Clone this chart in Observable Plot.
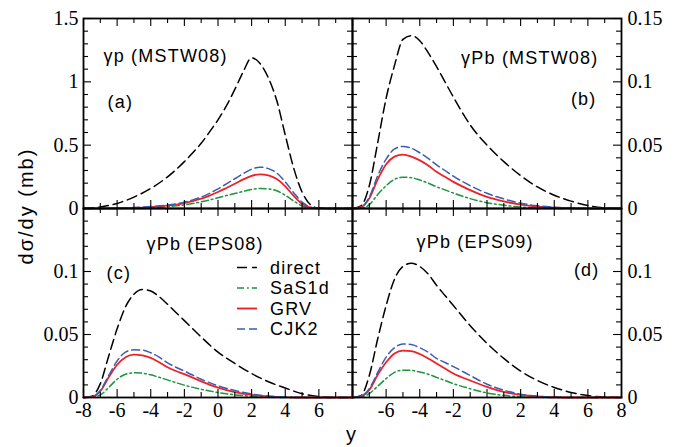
<!DOCTYPE html>
<html><head><meta charset="utf-8">
<script src="https://cdn.jsdelivr.net/npm/d3@7"></script>
<script src="https://cdn.jsdelivr.net/npm/@observablehq/plot@0.6"></script>
<style>
html,body{margin:0;padding:0;background:#fff;}
#chart{position:relative;width:696px;height:447px;overflow:hidden;background:#fff;}
#chart svg{position:absolute;left:0;top:0;}
</style></head><body><div id="chart"></div>
<script>
// ---------- data ----------
const seriesNames = ["direct", "SaS1d", "GRV", "CJK2"];

// panel (a): gamma p, MSTW08
const yGridP = [-8,-7,-6,-5,-4,-3,-2,-1.5,-1,-0.5,0,0.5,1,1.5,2,2.5,3,3.5,4,4.5,5,5.5,6,7,8];
const aDirect = [0,0.012,0.04,0.09,0.158,0.25,0.37,0.44,0.515,0.605,0.70,0.81,0.94,1.08,1.19,1.145,1.03,0.85,0.58,0.32,0.13,0.03,0.003,0,0];
const aSaS    = [0,0,0.001,0.003,0.007,0.014,0.028,0.039,0.052,0.067,0.085,0.102,0.118,0.135,0.15,0.158,0.155,0.14,0.105,0.06,0.02,0.003,0,0,0];
const aGRV    = [0,0.001,0.002,0.005,0.011,0.022,0.043,0.059,0.078,0.102,0.13,0.162,0.195,0.23,0.258,0.27,0.262,0.232,0.175,0.10,0.035,0.007,0.001,0,0];
const aCJK    = [0,0.001,0.003,0.007,0.015,0.027,0.05,0.068,0.09,0.12,0.155,0.195,0.235,0.275,0.31,0.326,0.315,0.28,0.21,0.125,0.05,0.012,0.001,0,0];

// panels (b)-(d): gamma Pb
const yGridPb = [-8,-7.5,-7,-6.5,-6,-5.5,-5,-4.5,-4,-3.5,-3,-2.5,-2,-1,0,1,2,3,4,5,6,7,8];
const bDirect = [0,0.002,0.018,0.052,0.087,0.113,0.1335,0.1365,0.1325,0.123,0.112,0.100,0.088,0.066,0.050,0.037,0.026,0.017,0.0105,0.0058,0.0024,0.0005,0];
const bSaS    = [0,0.0003,0.003,0.011,0.018,0.023,0.0247,0.0243,0.0225,0.020,0.0172,0.0147,0.0122,0.0078,0.0046,0.0026,0.0011,0.0004,0.0001,0,0,0,0];
const bGRV    = [0,0.001,0.008,0.023,0.035,0.041,0.0426,0.041,0.038,0.034,0.029,0.025,0.021,0.0145,0.0092,0.0057,0.0031,0.0015,0.0006,0.0002,0,0,0];
const bCJK    = [0,0.001,0.009,0.026,0.039,0.047,0.049,0.0476,0.044,0.0395,0.0345,0.030,0.0255,0.018,0.012,0.0076,0.0042,0.0022,0.001,0.0003,0,0,0];

const cDirect = [0,0.001,0.011,0.033,0.0545,0.072,0.082,0.0857,0.0845,0.080,0.074,0.0675,0.061,0.048,0.036,0.027,0.019,0.0125,0.0075,0.003,0.0008,0,0];
const cSaS    = [0,0.0002,0.002,0.008,0.0145,0.0185,0.0196,0.0193,0.018,0.016,0.014,0.0118,0.0098,0.0065,0.004,0.0021,0.001,0.0004,0,0,0,0,0];
const cGRV    = [0,0.0005,0.005,0.016,0.026,0.032,0.034,0.0335,0.0315,0.028,0.024,0.021,0.0185,0.0128,0.0078,0.0043,0.0021,0.0009,0.0003,0,0,0,0];
const cCJK    = [0,0.0005,0.0055,0.0175,0.029,0.036,0.0378,0.0376,0.0355,0.032,0.0275,0.024,0.021,0.0145,0.0093,0.0055,0.0028,0.0012,0.0004,0,0,0,0];

const dDirect = [0,0.0015,0.0175,0.0466,0.073,0.094,0.104,0.1066,0.104,0.098,0.089,0.081,0.073,0.057,0.043,0.031,0.021,0.0135,0.008,0.004,0.0015,0.0003,0];
const dSaS    = [0,0.0005,0.003,0.009,0.015,0.02,0.0217,0.0215,0.0203,0.0185,0.016,0.0135,0.011,0.007,0.0036,0.0017,0.0006,0.0002,0,0,0,0,0];
const dGRV    = [0,0.001,0.006,0.018,0.028,0.035,0.0372,0.0368,0.0345,0.031,0.027,0.023,0.019,0.0135,0.0085,0.0044,0.0021,0.0008,0.0002,0,0,0,0];
const dCJK    = [0,0.001,0.007,0.02,0.032,0.0395,0.0425,0.042,0.0395,0.036,0.031,0.0278,0.0245,0.0175,0.0105,0.0058,0.0026,0.001,0.0003,0,0,0,0];

// ticks
const xMajor = [-8,-6,-4,-2,0,2,4,6,8];
const xMinor = [-7,-5,-3,-1,1,3,5,7];
const xLabelsLeft  = [-8,-6,-4,-2,0,2,4,6];
const xLabelsRight = [-6,-4,-2,0,2,4,6,8];
const yMajorA = [0,0.5,1,1.5];
const yMinorA = [0.1,0.2,0.3,0.4,0.6,0.7,0.8,0.9,1.1,1.2,1.3,1.4];
const yMajorPb = [0,0.05,0.1,0.15];
const yMinorPb = [0.01,0.02,0.03,0.04,0.06,0.07,0.08,0.09,0.11,0.12,0.13,0.14];
const yLabelsA = [0,0.5,1,1.5];
const yLabelsB = [0,0.05,0.1,0.15];
const yLabelsC = [0,0.05,0.1];
const yLabelsD = [0,0.05,0.1];

const titles = ["γp (MSTW08)", "γPb (MSTW08)", "γPb (EPS08)", "γPb (EPS09)"];
const tags = ["(a)", "(b)", "(c)", "(d)"];
const yAxisLabel = "dσ/dy (mb)";
const xAxisLabel = "y";

// ---------- styles / layout ----------
const W = 696, H = 447;
const X0 = 83, XM = 352, X1 = 621, Y0 = 18, YM = 208, Y1 = 397;
const SERIF = "Liberation Serif";
const SANS = "Liberation Sans";
const colors = ["#000000", "#1c9440", "#ee2226", "#3b5cb4"];
const dashes = ["10,5", "7,3,1.8,3", null, "8,4"];
const widths = [1.5, 1.5, 1.8, 1.5];

function panel(o) {
  const fw = o.right - o.left, fh = o.bottom - o.top;
  const marks = [];
  o.series.forEach((vals, k) => {
    const rows = o.xs.map((x, i) => ({x, v: vals[i]}));
    const opt = {x: "x", y: "v", stroke: colors[k], strokeWidth: widths[k], curve: "monotone-x"};
    if (dashes[k]) opt.strokeDasharray = dashes[k];
    marks.push(Plot.line(rows, opt));
  });
  const tc = {stroke: "#000", strokeWidth: 1.1};
  marks.push(Plot.tickY(o.yMajor, {y: d => d, insetRight: fw - 8, ...tc}));
  marks.push(Plot.tickY(o.yMajor, {y: d => d, insetLeft: fw - 8, ...tc}));
  marks.push(Plot.tickY(o.yMinor, {y: d => d, insetRight: fw - 5, ...tc}));
  marks.push(Plot.tickY(o.yMinor, {y: d => d, insetLeft: fw - 5, ...tc}));
  marks.push(Plot.tickX(xMajor, {x: d => d, insetBottom: fh - 8, ...tc}));
  marks.push(Plot.tickX(xMajor, {x: d => d, insetTop: fh - 8, ...tc}));
  marks.push(Plot.tickX(xMinor, {x: d => d, insetBottom: fh - 5, ...tc}));
  marks.push(Plot.tickX(xMinor, {x: d => d, insetTop: fh - 5, ...tc}));
  marks.push(Plot.frame({stroke: "#000", strokeWidth: 1.8}));
  // tick labels (serif)
  const left = o.ySide === "left";
  marks.push(Plot.text(o.yLabels, {y: d => d, text: d => String(d), frameAnchor: left ? "left" : "right",
    dx: left ? -5 : 6, textAnchor: left ? "end" : "start", fontFamily: SERIF, fontSize: 20, fill: "#000"}));
  if (o.xLabels) marks.push(Plot.text(o.xLabels, {x: d => d, text: d => String(d), frameAnchor: "bottom",
    dy: 5, lineAnchor: "top", textAnchor: "middle", fontFamily: SERIF, fontSize: 20, fill: "#000"}));
  marks.push(Plot.text([o.title], {text: d => d, frameAnchor: o.titleAnchor, dx: o.titleDx, dy: o.titleDy,
    textAnchor: o.titleAnchor.endsWith("left") ? "start" : "end", fontSize: 18, fontFamily: SANS, fill: "#000"}));
  marks.push(Plot.text([o.tag], {text: d => d, frameAnchor: o.tagAnchor, dx: o.tagDx, dy: o.tagDy,
    textAnchor: o.tagAnchor.endsWith("left") ? "start" : "end", fontSize: 18, fontFamily: SANS, fill: "#000"}));
  const svg = Plot.plot({
    width: W, height: H,
    marginLeft: o.left, marginRight: W - o.right, marginTop: o.top, marginBottom: H - o.bottom,
    x: {domain: [-8, 8], axis: null},
    y: {domain: o.yDomain, axis: null},
    style: {background: "transparent", overflow: "visible"},
    marks
  });
  // enforce fonts directly on the text nodes; letter spacing only on the sans labels
  d3.select(svg).selectAll("text").each(function() {
    const t = this.textContent;
    const sel = d3.select(this);
    if (titles.includes(t) || tags.includes(t)) {
      sel.attr("font-family", SANS).style("font-family", SANS).style("letter-spacing", "1.2px");
    } else {
      sel.attr("font-family", SERIF).style("font-family", SERIF).style("font-size", "20px");
    }
  });
  return svg;
}

const chart = document.getElementById("chart");
const panels = [
  {left: X0, right: XM, top: Y0, bottom: YM, xs: yGridP, series: [aDirect, aSaS, aGRV, aCJK], yDomain: [0, 1.5],
   yMajor: yMajorA, yMinor: yMinorA, yLabels: yLabelsA, ySide: "left", xLabels: null,
   title: titles[0], titleAnchor: "top-left", titleDx: 20, titleDy: 31, tag: tags[0], tagAnchor: "top-left", tagDx: 24, tagDy: 77},
  {left: XM, right: X1, top: Y0, bottom: YM, xs: yGridPb, series: [bDirect, bSaS, bGRV, bCJK], yDomain: [0, 0.15],
   yMajor: yMajorPb, yMinor: yMinorPb, yLabels: yLabelsB, ySide: "right", xLabels: null,
   title: titles[1], titleAnchor: "top-right", titleDx: -23, titleDy: 33, tag: tags[1], tagAnchor: "top-right", tagDx: -25, tagDy: 74},
  {left: X0, right: XM, top: YM, bottom: Y1, xs: yGridPb, series: [cDirect, cSaS, cGRV, cCJK], yDomain: [0, 0.15],
   yMajor: yMajorPb, yMinor: yMinorPb, yLabels: yLabelsC, ySide: "left", xLabels: xLabelsLeft,
   title: titles[2], titleAnchor: "top-left", titleDx: 63, titleDy: 29, tag: tags[2], tagAnchor: "top-left", tagDx: 23, tagDy: 58},
  {left: XM, right: X1, top: YM, bottom: Y1, xs: yGridPb, series: [dDirect, dSaS, dGRV, dCJK], yDomain: [0, 0.15],
   yMajor: yMajorPb, yMinor: yMinorPb, yLabels: yLabelsD, ySide: "right", xLabels: xLabelsRight,
   title: titles[3], titleAnchor: "top-left", titleDx: 64, titleDy: 27, tag: tags[3], tagAnchor: "top-right", tagDx: -22, tagDy: 55}
];
panels.forEach(o => chart.appendChild(panel(o)));

// overlay: legend and axis titles
const ov = d3.select(chart).append("svg").attr("width", W).attr("height", H)
  .style("position", "absolute").style("left", 0).style("top", 0);
const legX = 237, legLen = 20, legTextX = 270, legY0 = 267.5, legStep = 20.5;
seriesNames.forEach((name, k) => {
  const y = legY0 + k * legStep;
  const ln = ov.append("line").attr("x1", legX).attr("x2", legX + legLen).attr("y1", y).attr("y2", y)
    .attr("stroke", colors[k]).attr("stroke-width", widths[k] + 0.1);
  if (dashes[k]) ln.attr("stroke-dasharray", dashes[k]);
  ov.append("text").attr("x", legTextX).attr("y", y).attr("dy", "0.36em")
    .attr("font-family", SANS).attr("font-size", 18).style("letter-spacing", "1.2px").text(name);
});
ov.append("text").attr("transform", "translate(32.5,206) rotate(-90)").attr("text-anchor", "middle")
  .attr("font-family", SANS).attr("font-size", 20).style("letter-spacing", "2px").text(yAxisLabel);
ov.append("text").attr("x", 351).attr("y", 441).attr("text-anchor", "middle")
  .attr("font-family", SANS).attr("font-size", 20).text(xAxisLabel);
</script></body></html>
